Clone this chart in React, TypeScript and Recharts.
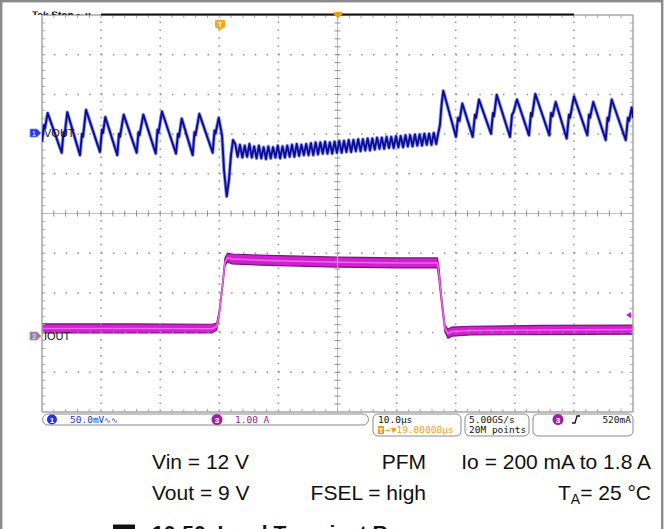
import React from 'react';
import { ComposedChart, Line, Area, XAxis, YAxis, ReferenceLine } from 'recharts';

// screen: 10 div x 10 µs, 10 div vertical
// VOUT: AC ripple in mV around 9 V (50 mV/div), IOUT in A (1 A/div)
const voutPoints: [number, number][] = [
  [0, -11], [0.34, 10], [0.51, 6], [0.96, 25],
  [3.33, -25], [3.64, 1], [3.81, -3], [4.28, 26],
  [6.43, -28], [6.77, -1], [6.94, -5], [7.45, 29],
  [9.81, -24], [10.15, 4], [10.32, 0], [10.71, 20],
  [12.74, -28], [13.03, -1], [13.2, -5], [13.82, 23],
  [16.02, -25], [16.33, 1], [16.5, -3], [17.14, 23],
  [19.24, -26], [19.54, 4], [19.71, 0], [20.3, 27],
  [22.67, -26], [23.01, -1], [23.18, -5], [23.64, 18],
  [25.5, -28], [25.8, 1], [25.97, -3], [26.62, 24],
  [28.88, -25], [29.19, 3], [29.36, -1], [29.9, 19],
  [30.46, -3], [30.8, -47], [31.25, -80], [31.64, -59], [31.98, -28], [32.32, -9],
  [32.7, -14], [33.1, -30], [33.5, -15], [33.9, -31], [34.3, -16], [34.7, -30],
  [35.1, -14], [35.5, -31], [35.9, -17], [36.3, -32], [36.7, -16], [37.1, -32],
  [37.5, -18], [37.9, -33], [38.3, -17], [38.7, -32], [39.1, -18], [39.5, -31],
  [39.9, -16], [40.3, -32], [40.7, -17], [41.1, -31], [41.5, -16], [41.9, -30],
  [42.3, -15], [42.7, -30], [43.1, -14], [43.5, -29], [43.9, -15], [44.3, -28],
  [44.7, -14], [45.1, -28], [45.5, -13], [45.9, -28], [46.3, -12], [46.7, -27],
  [47.1, -12], [47.5, -26], [47.9, -11], [48.3, -26], [48.7, -12], [49.1, -26],
  [49.5, -11], [49.9, -25], [50.3, -10], [50.7, -25], [51.1, -10], [51.5, -24],
  [51.9, -9], [52.3, -24], [52.7, -9], [53.1, -23], [53.5, -8], [53.9, -23],
  [54.3, -8], [54.7, -22], [55.1, -7], [55.5, -22], [55.9, -7], [56.3, -21],
  [56.7, -6], [57.1, -20], [57.5, -6], [57.9, -20], [58.3, -5], [58.7, -19],
  [59.1, -5], [59.5, -19], [59.9, -4], [60.3, -18], [60.7, -4], [61.1, -18],
  [61.5, -3], [61.9, -17], [62.3, -3], [62.7, -17], [63.1, -2], [63.5, -16],
  [63.9, -2], [64.3, -16], [64.7, -1], [65.1, -15], [65.5, -1], [65.9, -15],
  [66.3, 0], [66.7, -14], [67.0, -2],
  [67.34, 10], [67.6, 35], [67.9, 53],
  [70.05, -5], [70.39, 19], [70.64, 15], [71.12, 37],
  [72.88, -5], [73.27, 23], [73.44, 19], [73.94, 42],
  [75.97, -1], [76.31, 25], [76.48, 21], [76.94, 48],
  [79.19, -5], [79.53, 23], [79.78, 26], [80.37, 42],
  [82.4, -3], [82.74, 25], [82.91, 21], [83.47, 49],
  [85.84, -3], [86.13, 25], [86.38, 21], [86.92, 39],
  [88.78, -7], [89.17, 23], [89.34, 19], [90.02, 46],
  [92.27, -3], [92.56, 23], [92.73, 19], [93.28, 39],
  [95.38, -9], [95.69, 19], [95.86, 15], [96.4, 42],
  [98.77, -9], [99.15, 19], [99.32, 15], [99.78, 32], [100, 19],
];

// [t µs, low A, high A] - the noise band of the current probe
const ioutPoints: [number, number, number][] = [
  [0, 0.07, 0.3], [15, 0.07, 0.3], [28.76, 0.07, 0.29], [29.56, 0.14, 0.32],
  [29.95, 0.45, 0.6], [30.46, 1.08, 1.23], [30.96, 1.76, 1.96], [31.39, 1.86, 2.08],
  [32.15, 1.81, 2.06], [36.9, 1.78, 2.03], [50, 1.73, 1.98], [60.6, 1.71, 1.96],
  [66.9, 1.71, 1.96], [67.17, 1.4, 1.71], [67.68, 0.7, 0.9], [68.19, 0.09, 0.27],
  [68.7, -0.06, 0.17], [69.37, -0.01, 0.22], [72.4, 0.02, 0.24], [84.3, 0.03, 0.26],
  [100, 0.04, 0.27],
];

const VOUT_MV_PER_DIV = 50;
const IOUT_A_PER_DIV = 1;
const VOUT_OFFSET_DIV = 2.03;
const IOUT_OFFSET_DIV = -3.08;

const voutData = voutPoints.map(([t, mv]) => ({ t, y: VOUT_OFFSET_DIV + mv / VOUT_MV_PER_DIV }));
const ioutData = ioutPoints.map(([t, lo, hi]) => ({
  t,
  band: [IOUT_OFFSET_DIV + lo / IOUT_A_PER_DIV, IOUT_OFFSET_DIV + hi / IOUT_A_PER_DIV],
  mid: IOUT_OFFSET_DIV + (lo + hi) / 2 / IOUT_A_PER_DIV,
}));

const W = 666;
const H = 529;
const M = { top: 15, right: 33, bottom: 117, left: 42 };
const PW = W - M.left - M.right; // 591
const PH = H - M.top - M.bottom; // 397
const TX = (3 * 100) / PW;
const TY = (3 * 10) / PH;

const divX = [10, 20, 30, 40, 60, 70, 80, 90];
const divY = [-4, -3, -2, -1, 1, 2, 3, 4];
const minorX = Array.from({ length: 49 }, (_, i) => (i + 1) * 2);
const minorY = Array.from({ length: 49 }, (_, i) => Math.round((-4.8 + i * 0.2) * 10) / 10);

const GRID = '#8f8f8f';
const EDGE = '#a6a6a6';
const MONO = '"DejaVu Sans Mono", monospace';
const SANS = '"Liberation Sans", Arial, sans-serif';

function tickLines() {
  const out: React.ReactNode[] = [];
  minorX.forEach((x) => {
    out.push(<ReferenceLine key={`cb${x}`} segment={[{ x, y: -TY }, { x, y: TY }]} stroke={GRID} ifOverflow="visible" />);
    out.push(<ReferenceLine key={`bb${x}`} segment={[{ x, y: -5 }, { x, y: -5 + TY }]} stroke={EDGE} ifOverflow="visible" />);
    out.push(<ReferenceLine key={`tb${x}`} segment={[{ x, y: 5 }, { x, y: 5 - TY }]} stroke={EDGE} ifOverflow="visible" />);
  });
  minorY.forEach((y) => {
    out.push(<ReferenceLine key={`cv${y}`} segment={[{ x: 50 - TX, y }, { x: 50 + TX, y }]} stroke={GRID} ifOverflow="visible" />);
    out.push(<ReferenceLine key={`lv${y}`} segment={[{ x: 0, y }, { x: TX, y }]} stroke={EDGE} ifOverflow="visible" />);
    out.push(<ReferenceLine key={`rv${y}`} segment={[{ x: 100, y }, { x: 100 - TX, y }]} stroke={EDGE} ifOverflow="visible" />);
  });
  return out;
}

function Overlay() {
  return (
    <svg width={W} height={H} style={{ position: 'absolute', left: 0, top: 0, pointerEvents: 'none' }}>
      <defs>
        <clipPath id="topcut">
          <rect x={0} y={11.5} width={120} height={3.5} />
        </clipPath>
      </defs>
      {/* outer frame */}
      <rect x={1.2} y={1.2} width={661} height={600} fill="none" stroke="#8a8a8a" strokeWidth={2.4} />
      {/* cut-off header text */}
      <text x={32} y={19} fontFamily={SANS} fontSize={10} fontWeight="bold" fill="#111" clipPath="url(#topcut)">Tek Stop ~ µ</text>
      {/* record view bar */}
      <line x1={101} x2={574} y1={14.5} y2={14.5} stroke="#111" strokeWidth={2} />
      {/* trigger position marker */}
      <path d="M334,12 L342,12 L342,14.5 L338,18.5 L334,14.5 Z" fill="#f39c12" />
      {/* trigger T marker */}
      <path d="M216,20 L224,20 Q225,20 225,21 L225,27 L220,30 L215,27 L215,21 Q215,20 216,20 Z" fill="#f5a623" />
      <text x={220} y={26.5} textAnchor="middle" fontFamily={SANS} fontSize={7} fontWeight="bold" fill="#fff">T</text>
      {/* channel markers */}
      <path d="M30,129 L37,129 L41,133 L37,137 L30,137 Z" fill="#1f3de8" stroke="#7f95ff" strokeWidth={0.8} />
      <text x={34} y={135.8} textAnchor="middle" fontFamily={SANS} fontSize={7} fill="#fff">1</text>
      <text x={44} y={137} fontFamily={SANS} fontSize={11} fill="#111">VOUT</text>
      <path d="M30,332 L37,332 L41,336 L37,340 L30,340 Z" fill="#8a8a8a" stroke="#e070e0" strokeWidth={0.8} />
      <text x={34} y={338.8} textAnchor="middle" fontFamily={SANS} fontSize={7} fill="#eee">3</text>
      <text x={44} y={340} fontFamily={SANS} fontSize={11} fill="#111">IOUT</text>
      {/* trigger level */}
      <path d="M626,315 L631,312 L631,318 Z" fill="#c020c0" />

      {/* status bar */}
      <rect x={42.5} y={414} width={326} height={11} rx={5.5} fill="#fff" stroke="#8a8a8a" strokeWidth={1} />
      <circle cx={52} cy={419.5} r={5} fill="#1e32e6" />
      <text x={52} y={422.5} textAnchor="middle" fontFamily={SANS} fontSize={8} fontWeight="bold" fill="#fff">1</text>
      <text x={70} y={423} fontFamily={MONO} fontSize={9.5} fill="#2433d8">50.0mV</text>
      <text x={104} y={423} fontFamily={MONO} fontSize={8} fill="#2433d8">∿∿</text>
      <circle cx={217} cy={419.5} r={5.5} fill="#a020a0" />
      <text x={217} y={422.5} textAnchor="middle" fontFamily={SANS} fontSize={8} fontWeight="bold" fill="#fff">3</text>
      <text x={235} y={423} fontFamily={MONO} fontSize={9.5} fill="#9a1a9a">1.00 A</text>

      <rect x={373} y={414} width={88} height={22} rx={5} fill="#fff" stroke="#8a8a8a" strokeWidth={1} />
      <text x={378} y={423} fontFamily={MONO} fontSize={9.5} fill="#111">10.0µs</text>
      <rect x={378} y={426} width={6} height={8} fill="#f39c12" />
      <text x={381} y={432.5} textAnchor="middle" fontFamily={SANS} fontSize={6.5} fontWeight="bold" fill="#fff">T</text>
      <text x={385} y={433} fontFamily={MONO} fontSize={9.5} fill="#f39c12">→▼19.80000µs</text>

      <rect x={465} y={414} width={64} height={22} rx={5} fill="#fff" stroke="#8a8a8a" strokeWidth={1} />
      <text x={469} y={423} fontFamily={MONO} fontSize={9.5} fill="#111">5.00GS/s</text>
      <text x={469} y={433} fontFamily={MONO} fontSize={9.5} fill="#111">20M points</text>

      <rect x={533} y={414} width={100} height={22} rx={5} fill="#fff" stroke="#8a8a8a" strokeWidth={1} />
      <circle cx={558} cy={419.5} r={5.5} fill="#a020a0" />
      <text x={558} y={422.5} textAnchor="middle" fontFamily={SANS} fontSize={8} fontWeight="bold" fill="#fff">3</text>
      <path d="M572,423 L575,423 L577,416 L580,416" fill="none" stroke="#111" strokeWidth={1.3} />
      <text x={631} y={423} textAnchor="end" fontFamily={MONO} fontSize={9.5} fill="#111">520mA</text>

      {/* test conditions */}
      <g fontFamily={SANS} fontSize={21} fill="#111">
        <text x={152} y={468.5}>Vin = 12 V</text>
        <text x={426} y={468.5} textAnchor="end">PFM</text>
        <text x={651} y={468.5} textAnchor="end">Io = 200 mA to 1.8 A</text>
        <text x={152} y={500}>Vout = 9 V</text>
        <text x={426} y={500} textAnchor="end">FSEL = high</text>
        <text x={651} y={500} textAnchor="end">
          T<tspan fontSize={14} dy={4}>A</tspan>
          <tspan dy={-4}>= 25 °C</tspan>
        </text>
      </g>
      {/* figure caption, cut by the page edge as in the source */}
      <rect x={113} y={524.5} width={22} height={16} fill="#111" />
      <text x={152} y={540} fontFamily={SANS} fontSize={21} fontWeight="bold" fill="#111">10-50. Load Transient Response</text>
    </svg>
  );
}

export default function App() {
  return (
    <div style={{ position: 'absolute', left: 0, top: 0, width: W, height: H, overflow: 'hidden', background: '#fff' }}>
      <ComposedChart width={W} height={H} margin={M}>
        <XAxis type="number" dataKey="t" domain={[0, 100]} hide allowDataOverflow />
        <YAxis type="number" domain={[-5, 5]} hide allowDataOverflow />

        {divX.map((x) => (
          <ReferenceLine key={`gx${x}`} x={x} stroke={GRID} strokeWidth={1.5} strokeDasharray="1.5 6.44" />
        ))}
        {divY.map((y) => (
          <ReferenceLine key={`gy${y}`} y={y} stroke={GRID} strokeWidth={1.5} strokeDasharray="1.5 10.32" />
        ))}
        <ReferenceLine x={50} stroke="#bdbdbd" strokeWidth={1} />
        <ReferenceLine y={0} stroke="#bdbdbd" strokeWidth={1} />
        <ReferenceLine x={0} stroke={EDGE} strokeWidth={1.5} />
        <ReferenceLine x={100} stroke={EDGE} strokeWidth={1.5} />
        <ReferenceLine y={-5} stroke={EDGE} strokeWidth={1.5} />
        <ReferenceLine y={5} stroke={EDGE} strokeWidth={1.5} />
        {tickLines()}

        <Area
          data={ioutData}
          dataKey="band"
          type="linear"
          fill="#d21fd2"
          fillOpacity={1}
          stroke="#7a127a"
          strokeWidth={1.2}
          isAnimationActive={false}
          dot={false}
          activeDot={false}
        />
        <Line data={ioutData} dataKey="mid" type="linear" stroke="#ee66ee" strokeWidth={1.5} dot={false} activeDot={false} isAnimationActive={false} />

        <Line data={voutData} dataKey="y" type="linear" stroke="#4455dd" strokeOpacity={0.6} strokeWidth={3.6} dot={false} activeDot={false} isAnimationActive={false} strokeLinejoin="round" />
        <Line data={voutData} dataKey="y" type="linear" stroke="#0c0c94" strokeWidth={1.9} dot={false} activeDot={false} isAnimationActive={false} strokeLinejoin="round" />
      </ComposedChart>
      <Overlay />
    </div>
  );
}
